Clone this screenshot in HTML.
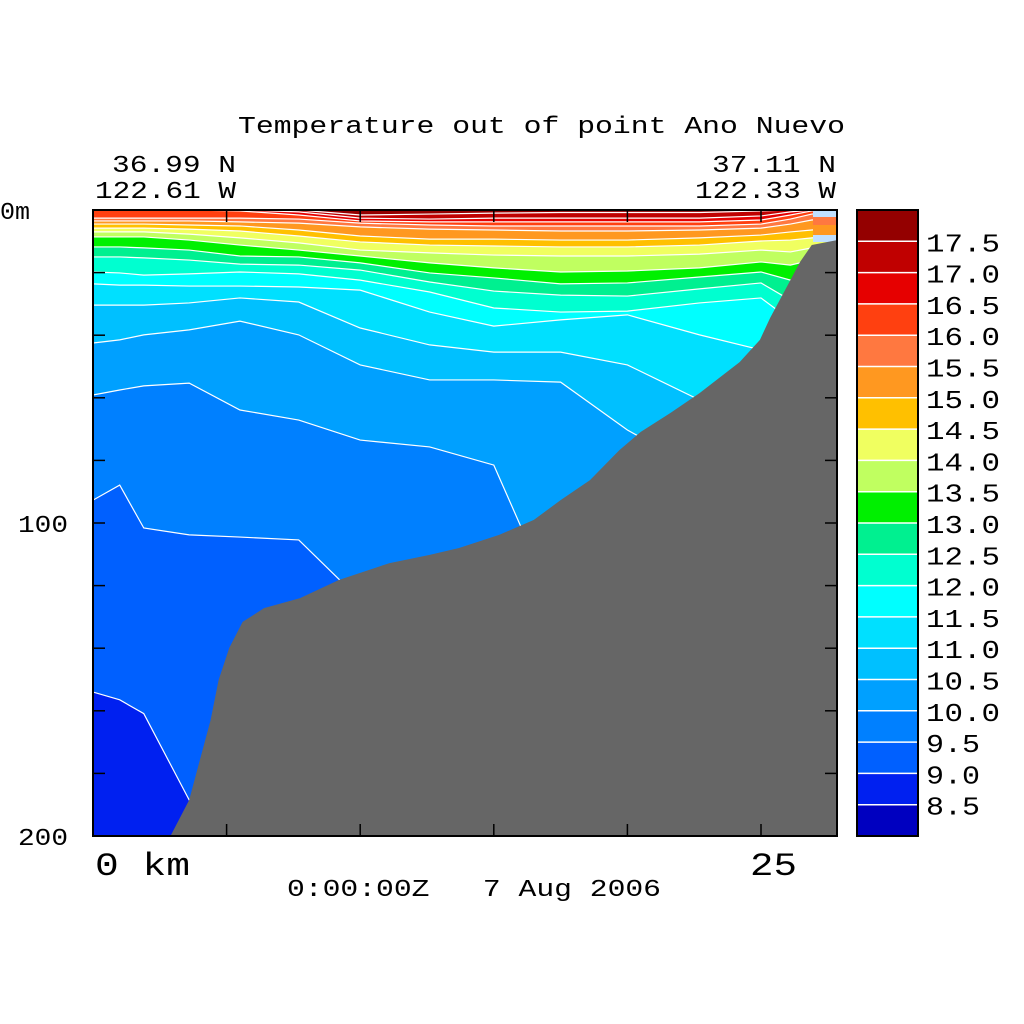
<!DOCTYPE html>
<html><head><meta charset="utf-8"><title>Temperature out of point Ano Nuevo</title>
<style>
html,body{margin:0;padding:0;background:#fff;}
svg{display:block;}
text{font-family:"Liberation Mono","DejaVu Sans Mono",monospace;fill:#000;}
</style></head>
<body>
<svg id="chart" width="1024" height="1024" viewBox="0 0 1024 1024" xmlns="http://www.w3.org/2000/svg">
  <defs><clipPath id="plotclip"><rect x="93" y="210" width="744" height="626"/></clipPath></defs>
  <text x="238" y="133" font-size="24" textLength="607" lengthAdjust="spacingAndGlyphs">Temperature out of point Ano Nuevo</text>
  <text x="112" y="172" font-size="24" textLength="124" lengthAdjust="spacingAndGlyphs">36.99 N</text>
  <text x="95" y="198" font-size="24" textLength="141" lengthAdjust="spacingAndGlyphs">122.61 W</text>
  <text x="712" y="172" font-size="24" textLength="124" lengthAdjust="spacingAndGlyphs">37.11 N</text>
  <text x="695" y="198" font-size="24" textLength="141" lengthAdjust="spacingAndGlyphs">122.33 W</text>
  <g id="field" clip-path="url(#plotclip)"></g>
  <g id="axes"></g>
  <g id="cbar"></g>
  <text x="95" y="875" font-size="32" textLength="95" lengthAdjust="spacingAndGlyphs">0 km</text>
  <text x="750" y="875" font-size="32" textLength="47" lengthAdjust="spacingAndGlyphs">25</text>
  <text x="287" y="896" font-size="24" xml:space="preserve" style="white-space:pre" textLength="374" lengthAdjust="spacingAndGlyphs">0:00:00Z   7 Aug 2006</text>
</svg>
<script>
// ---- data ----
const distKm = [0,1,1.9,3.6,5.5,7.7,10,12.6,15,17.5,20,22.7,25,26.1,26.9,27.85];
const levels = [17.5,17.0,16.5,16.0,15.5,15.0,14.5,14.0,13.5,13.0,12.5,12.0,11.5,11.0,10.5,10.0,9.5,9.0];
const iso175 = [0,0,0,0,0,0,1.6,1.3,1,0.8,0.8,0.8,0.3,0,0,0];
const iso170 = [0,0,0,0,0,0.6,2.6,2.9,2.6,2.6,2.6,2.6,1.9,0.6,0,0];
const iso165 = [0,0,0,0,0.3,1.6,3.5,3.8,3.8,3.8,3.8,3.8,3.2,1.6,0.3,0];
const iso160 = [2.6,2.6,2.6,2.6,2.6,2.9,4.2,4.8,5.1,5.1,5.1,5.1,4.5,2.9,1.3,0.6];
const iso155 = [3.5,3.5,3.5,3.5,3.8,4.2,5.4,6.1,6.4,6.7,6.7,6.4,5.8,4.5,3.2,2.6];
const iso150 = [4.5,4.5,4.5,4.8,5.1,6.4,8.3,9.3,9.3,9.6,9.6,8.9,8.0,7.0,6.4,5.8];
const iso145 = [5.8,5.8,5.8,6.1,6.7,8.3,10.2,11.2,11.5,11.8,11.8,11.2,9.9,9.6,8.9,8.3];
const iso140 = [7,7,7,7.7,8.9,10.5,12.8,13.7,14.4,14.7,14.7,14.1,12.8,13.4,12.1,11.5];
const iso135 = [8.6,8.6,8.6,9.6,11.2,12.8,14.7,16.9,18.5,19.8,19.5,18.5,16.6,17.6,16,14.4];
const iso130 = [11.8,11.8,12.1,12.8,14.7,15.0,16.9,20.1,21.7,23.6,23.3,21.4,19.8,22.4,20.8,19.2];
const iso125 = [15,15,15.3,16,17.3,17.6,19.2,23,25.9,27.2,27.5,25.2,23.3,28.8,25.6,22.4];
const iso120 = [19.8,20.1,20.8,20.4,19.8,20.4,22.4,26.2,31.3,32.6,32.3,29.7,28.1,35.1,31.9,28.8];
const iso115 = [23.6,24,24,24.3,24.3,24.6,25.6,32.6,37.1,35.1,33.5,39.9,44.7,47.9,47.9,47.9];
const iso110 = [30.4,30.4,30.4,29.7,28.1,29.4,37.7,43.1,45.4,45.4,49.5,60.7,73.5,73.5,73.5,73.5];
const iso105 = [42.5,41.5,39.9,38.3,35.5,39.9,49.5,54.3,54.3,55,70.3,83,83,83,83,83];
const iso100 = [59.1,57.5,56.2,55.3,63.9,67.1,73.5,75.7,81.5,130,200,200,200,200,200,200];
const iso095 = [92.7,87.9,101.6,103.8,104.5,105.4,124.6,200,200,200,200,200,200,200,200,200];
const iso090 = [154,156.5,160.9,188.5,200,200,200,200,200,200,200,200,200,200,200,200];
const isotherms = [iso175,iso170,iso165,iso160,iso155,iso150,iso145,iso140,iso135,iso130,iso125,iso120,iso115,iso110,iso105,iso100,iso095,iso090];
const bandColors = ["#940000","#c00000","#e60000","#ff4010","#ff7840","#ff9820","#ffc000","#f0ff60","#c0ff60","#00f000","#00f090","#00ffd0","#00ffff","#00e0ff","#00c0ff","#00a0ff","#0080ff","#0060ff","#0020f0","#0000c0"];
const cbarLabels = ["17.5","17.0","16.5","16.0","15.5","15.0","14.5","14.0","13.5","13.0","12.5","12.0","11.5","11.0","10.5","10.0","9.5","9.0","8.5"];
const bathyKm = [27.85,26.9,26.46,25.9,25.34,24.96,24.2,22.7,21.6,20.5,19.7,18.6,17.5,16.5,15.2,13.7,12.6,11.1,9.2,7.75,6.4,5.6,5.1,4.7,4.4,4.0,3.6,2.9];
const bathyM = [9.6,11.2,16.6,25.6,34.5,41.5,48.6,58.5,64.9,70.9,76.7,86.3,92.7,99,103.8,108,110.2,112.8,118.2,124,127.2,131.6,139.9,150.2,163,175.7,188.5,200];
const xTicksKm = [5,10,15,20,25];
const yTicksM = [20,40,60,80,100,120,140,160,180];
const yLabels = ["100","200"];

// ---- scales ----
const X = km => 93 + km * 26.72;
const Y = m => 210 + m * 3.13;
const NS = "http://www.w3.org/2000/svg";
function mk(tag, attrs, parent){ const e=document.createElementNS(NS,tag); for(const k in attrs) e.setAttribute(k,attrs[k]); parent.appendChild(e); return e; }

const field = document.getElementById('field');
const bg = mk('rect',{x:93,y:210,width:744,height:626,fill:bandColors[0]},field);


isotherms.forEach((arr,i)=>{
  let d = 'M' + X(distKm[0]) + ',' + Y(arr[0]);
  for(let j=1;j<distKm.length;j++) d += 'L' + X(distKm[j]) + ',' + Y(arr[j]);
  d += 'L' + X(distKm[distKm.length-1]) + ',840L' + X(distKm[0]) + ',840Z';
  const p = mk('path',{d:d,fill:bandColors[i+1]},field);
  
  
});
isotherms.forEach((arr,i)=>{
  let d = 'M' + X(distKm[0]) + ',' + Y(arr[0]);
  for(let j=1;j<distKm.length;j++) d += 'L' + X(distKm[j]) + ',' + Y(arr[j]);
  const l = mk('path',{d:d,fill:'none',stroke:'#fff','stroke-width':1.2},field);
  
  
});
const nd1 = mk('rect',{x:813,y:210,width:24,height:32,fill:'#c0e0ff'},field);


const nd2 = mk('rect',{x:813,y:217,width:24,height:8,fill:'#ff7840'},field);


const nd3 = mk('rect',{x:813,y:225,width:24,height:10,fill:'#ff9820'},field);


let bd = 'M' + X(bathyKm[0]) + ',' + Y(bathyM[0]);
for(let j=1;j<bathyKm.length;j++) bd += 'L' + X(bathyKm[j]) + ',' + Y(bathyM[j]);
bd += 'L837,836Z';
const bath = mk('path',{d:bd,fill:'#666666'},field);



const axes = document.getElementById('axes');
const frame = mk('rect',{x:93,y:210,width:744,height:626,fill:'none',stroke:'#000','stroke-width':2},axes);


xTicksKm.forEach(k=>{
  const t1 = mk('line',{x1:X(k),x2:X(k),y1:210,y2:222,stroke:'#000','stroke-width':1.5},axes);
  
  
  const t2 = mk('line',{x1:X(k),x2:X(k),y1:824,y2:836,stroke:'#000','stroke-width':1.5},axes);
  
  
});
yTicksM.forEach(m=>{
  const t1 = mk('line',{x1:93,x2:105,y1:Y(m),y2:Y(m),stroke:'#000','stroke-width':1.5},axes);
  
  
  const t2 = mk('line',{x1:825,x2:837,y1:Y(m),y2:Y(m),stroke:'#000','stroke-width':1.5},axes);
  
  
});
const z = mk('text',{x:0,y:219,'font-size':24,textLength:30,lengthAdjust:'spacingAndGlyphs'},axes);
z.textContent='0m';


yLabels.forEach((s,i)=>{
  const t = mk('text',{x:18,y:Y((i+1)*100)+9,'font-size':24,textLength:50,lengthAdjust:'spacingAndGlyphs'},axes);
  t.textContent=s;
  
  
});

const cbar = document.getElementById('cbar');
const bh = 626/bandColors.length;
bandColors.forEach((c,i)=>{
  const r = mk('rect',{x:857,y:210+i*bh,width:61,height:bh,fill:c},cbar);
  
  
});
cbarLabels.forEach((s,i)=>{
  const yy = 210+(i+1)*bh;
  const l = mk('line',{x1:857,x2:918,y1:yy,y2:yy,stroke:'#fff','stroke-width':1.5},cbar);
  
  
  const t = mk('text',{x:926,y:yy+10,'font-size':26,textLength:s.length===4?74:54,lengthAdjust:'spacingAndGlyphs'},cbar);
  t.textContent=s;
  
  
});
const cf = mk('rect',{x:857,y:210,width:61,height:626,fill:'none',stroke:'#000','stroke-width':2},cbar);


</script>
</body></html>
